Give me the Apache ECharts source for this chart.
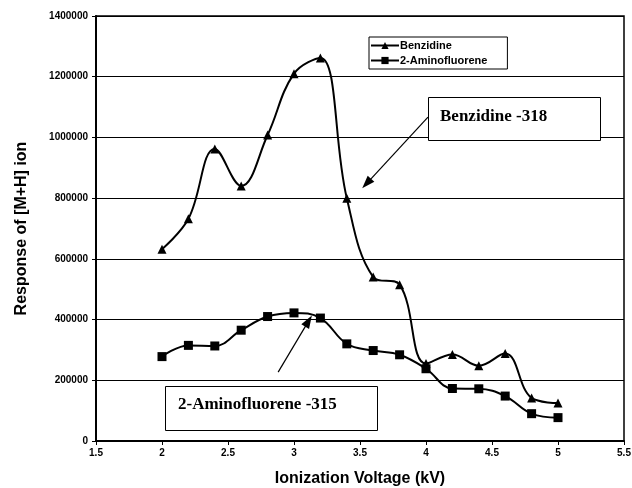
<!DOCTYPE html>
<html><head><meta charset="utf-8">
<script src="https://cdn.jsdelivr.net/npm/echarts@6/dist/echarts.min.js"></script>
<style>html,body{margin:0;padding:0;background:#fff}#c{width:632px;height:488px}</style>
</head><body><div id="c"></div>
<script>
var voltages = [2.0, 2.2, 2.4, 2.6, 2.8, 3.0, 3.2, 3.4, 3.6, 3.8, 4.0, 4.2, 4.4, 4.6, 4.8, 5.0];
var benzidine = [632000, 732000, 962000, 840000, 1008000, 1210000, 1262000, 800000, 540000, 515000, 255000, 285000, 248000, 288000, 142000, 125000];
var aminofluorene = [278000, 315000, 313000, 365000, 410000, 422000, 405000, 320000, 298000, 284000, 238000, 173000, 172000, 148000, 90000, 77000];
var seriesNames = ['Benzidine', '2-Aminofluorene'];
var xTitle = 'Ionization Voltage (kV)';
var yTitle = 'Response of [M+H] ion';
var noteBenz = 'Benzidine -318';
var noteAmino = '2-Aminofluorene -315';

function pairs(xs, ys){ return xs.map(function(x,i){ return [x, ys[i]]; }); }

var chart = echarts.init(document.getElementById('c'));
var lbl = {fontFamily:'Liberation Sans, Arial', fontWeight:'bold', fontSize:10, color:'#000'};
var arrowML = function(a, b){
  return {
    silent:true, symbol:['none','triangle'], symbolSize:[9,13],
    lineStyle:{color:'#000', width:1.2, type:'solid'}, label:{show:false},
    data:[[{coord:a},{coord:b}]]
  };
};
chart.setOption({
  animation:false,
  backgroundColor:'#fff',
  grid:{left:96, right:8, top:16, bottom:47, show:true, borderColor:'#000', borderWidth:1.5,
        containLabel:false, outerBoundsMode:'none'},
  legend:{
    orient:'vertical', left:369, top:37, itemGap:4, itemWidth:28, itemHeight:9,
    padding:[3,20,3,1], borderColor:'#000', borderWidth:1, backgroundColor:'#fff',
    textStyle:{fontFamily:'Liberation Sans, Arial', fontWeight:'bold', fontSize:11, color:'#000', padding:[0,0,0,-4]},
    data:seriesNames
  },
  xAxis:{
    type:'value', min:1.5, max:5.5, interval:0.5,
    name:xTitle, nameLocation:'middle', nameGap:30,
    nameTextStyle:{fontFamily:'Liberation Sans, Arial', fontWeight:'bold', fontSize:16, color:'#000'},
    axisLine:{lineStyle:{color:'#000', width:2}},
    axisTick:{show:true, length:4, lineStyle:{color:'#000', width:1}},
    axisLabel:Object.assign({margin:7}, lbl),
    splitLine:{show:false}
  },
  yAxis:{
    type:'value', min:0, max:1400000, interval:200000,
    name:yTitle, nameLocation:'middle', nameGap:66,
    nameTextStyle:{fontFamily:'Liberation Sans, Arial', fontWeight:'bold', fontSize:16, color:'#000'},
    axisLine:{show:true, lineStyle:{color:'#000', width:2}},
    axisTick:{show:true, length:4, lineStyle:{color:'#000', width:1}},
    axisLabel:Object.assign({margin:8, formatter:function(v){ return String(v); }}, lbl),
    splitLine:{show:true, lineStyle:{color:'#000', width:1}}
  },
  series:[
    {
      name:seriesNames[0], type:'line', data:pairs(voltages, benzidine),
      smooth:0.4, symbol:'triangle', symbolSize:9,
      lineStyle:{color:'#000', width:2}, itemStyle:{color:'#000'},
      markLine:arrowML([4.015,1067000],[3.55,848000])
    },
    {
      name:seriesNames[1], type:'line', data:pairs(voltages, aminofluorene),
      smooth:0.4, symbol:'rect', symbolSize:9,
      lineStyle:{color:'#000', width:2}, itemStyle:{color:'#000'},
      markLine:arrowML([2.88,227000],[3.11,395000])
    }
  ],
  graphic:[
    {type:'rect', left:428, top:97, shape:{width:172, height:43}, style:{fill:'#fff', stroke:'#000', lineWidth:1}, z:100},
    {type:'text', left:440, top:108, style:{text:noteBenz, fill:'#000', font:'bold 17px "Liberation Serif", "Times New Roman", serif'}, z:101},
    {type:'rect', left:165, top:386, shape:{width:212, height:44}, style:{fill:'#fff', stroke:'#000', lineWidth:1}, z:100},
    {type:'text', left:178, top:396, style:{text:noteAmino, fill:'#000', font:'bold 17px "Liberation Serif", "Times New Roman", serif'}, z:101}
  ]
});
</script></body></html>
